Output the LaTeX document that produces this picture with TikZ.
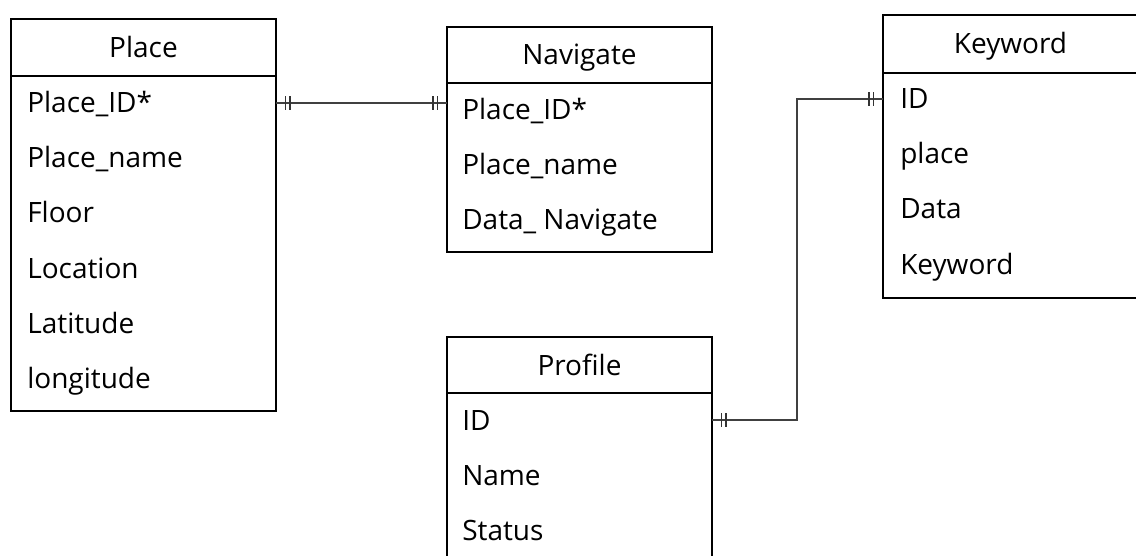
\documentclass[tikz,border=0pt]{standalone}
\usepackage{fontspec}
\setmainfont{Open Sans}
\usetikzlibrary{positioning,decorations.markings}

\tikzset{
  tblhead/.style={draw,line width=1.5pt,outer sep=0pt,minimum width=198.75pt,
    text height=15pt,text depth=0pt,font=\fontsize{21}{25}\selectfont},
  tblbody/.style={draw,line width=1.5pt,outer sep=0pt,minimum width=198.75pt},
  attr/.style={anchor=west,inner sep=0pt,text height=15pt,text depth=0pt,
    font=\fontsize{21}{25}\selectfont},
  onebar/.style={line width=0.8pt,black!80},
  one2one/.style={draw=black!75,line width=0.9pt,postaction={decorate},
    decoration={markings,
      mark=at position 7pt with {\draw[onebar] (0,-5pt) -- (0,5pt);},
      mark=at position 10.5pt with {\draw[onebar] (0,-5pt) -- (0,5pt);},
      mark=at position -7pt with {\draw[onebar] (0,-5pt) -- (0,5pt);},
      mark=at position -10.5pt with {\draw[onebar] (0,-5pt) -- (0,5pt);}}}
}

\begin{document}
\begin{tikzpicture}[x=0.75pt,y=-0.75pt]

  \useasboundingbox (0,0) rectangle (1136,556);

  % tables
  \node[tblhead,minimum height=42.75pt] (place) at (143.5,47.5) {Place};
  \node[tblbody,minimum height=251.25pt,below=0pt of place] (placebody) {};

  \node[tblhead,minimum height=42pt] (nav) at (579.5,55) {Navigate};
  \node[tblbody,minimum height=126.75pt,below=0pt of nav] (navbody) {};

  \node[tblhead,minimum height=43.5pt,minimum width=191.25pt] (kw) at (1010.5,44) {Keyword};
  \node[tblbody,minimum height=168.75pt,minimum width=191.25pt,below=0pt of kw] (kwbody) {};

  \node[tblhead,minimum height=42pt] (prof) at (579.5,365) {Profile};
  \node[tblbody,minimum height=150pt,below=0pt of prof] (profbody) {};

  % attributes
  \foreach \a [count=\i] in {Place\_ID*,Place\_name,Floor,Location,Latitude,longitude}
    \node[attr] (place-\i) at ([xshift=12pt,yshift=-20.25pt-41.25pt*(\i-1)]placebody.north west) {\a};

  \foreach \a [count=\i] in {Place\_ID*,Place\_name,Data\_ Navigate}
    \node[attr] (nav-\i) at ([xshift=11.25pt,yshift=-20.25pt-41.25pt*(\i-1)]navbody.north west) {\a};

  \foreach \a [count=\i] in {ID,place,Data,Keyword}
    \node[attr] (kw-\i) at ([xshift=12.75pt,yshift=-19.5pt-41.25pt*(\i-1)]kwbody.north west) {\a};

  \foreach \a [count=\i] in {ID,Name,Status}
    \node[attr] (prof-\i) at ([xshift=11.25pt,yshift=-20.25pt-41.25pt*(\i-1)]profbody.north west) {\a};

  % relations
  \draw[one2one] (place-1 -| placebody.east) -- (place-1 -| navbody.west);
  \draw[one2one] (prof-1 -| profbody.east) -- ++(63.75pt,0) |- (kw-1 -| kwbody.west);

\end{tikzpicture}
\end{document}
